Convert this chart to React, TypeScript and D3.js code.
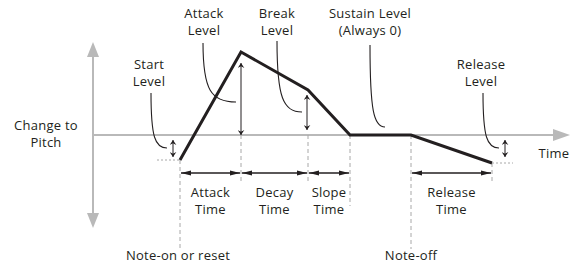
import React from "react";
import * as d3 from "d3";

// envelope stages (time units ~ px, pitch units ~ px)
const stageNames = ["Note-on", "Attack", "Decay", "Slope", "Note-off", "Release"];
const stageTimes = [0, 61, 128, 170, 231, 312];
const stageLevels = [-25, 83, 45, 0, 0, -28];

const timeSpans = [
  { label: ["Attack", "Time"], from: 0, to: 1 },
  { label: ["Decay", "Time"], from: 1, to: 2 },
  { label: ["Slope", "Time"], from: 2, to: 3 },
  { label: ["Release", "Time"], from: 4, to: 5 },
];

const W = 573;
const H = 267;
const ink = "#231f20";
const grey = "#b9b9b9";
const font = "'Open Sans', sans-serif";

export default function App() {
  const x = d3.scaleLinear().domain([-87, 375]).range([93, 555]);
  const y = d3.scaleLinear().domain([-93, 93]).range([228, 42]);
  const y0 = y(0);

  const pts: [number, number][] = stageTimes.map((t, i) => [x(t), y(stageLevels[i])]);
  const line = d3.line();

  const X = (i: number) => x(stageTimes[i]);
  const Y = (i: number) => y(stageLevels[i]);

  const spanY = y0 + 38;

  const txt = (lines: string[], cx: number, base: number, anchor = "middle") =>
    lines.map((s, k) => (
      <text key={k} x={cx} y={base + k * 17} textAnchor={anchor} fontSize={13} letterSpacing={0.25} fontFamily={font} fill={ink}>
        {s}
      </text>
    ));

  // double-headed level arrows
  const levelArrows = [
    { x: X(0) - 7, y1: y0 + 5, y2: Y(0) - 3 },
    { x: X(1), y1: Y(1) + 11, y2: y0 },
    { x: X(2) - 1, y1: Y(2) + 5, y2: y0 - 5 },
    { x: X(5) + 13, y1: y0 + 5, y2: Y(5) - 6 },
  ];

  // leader curves from label to arrow
  const leaders = [
    { sx: 151, sy: 93, ex: levelArrows[0].x - 6, ey: y0 + 13 },
    { sx: 203, sy: 43, ex: levelArrows[1].x - 5, ey: 102 },
    { sx: 277, sy: 41, ex: levelArrows[2].x - 5, ey: 112 },
    { sx: 370, sy: 45, ex: X(3) + 35, ey: y0 - 8 },
    { sx: 483, sy: 93, ex: levelArrows[3].x - 6, ey: y0 + 13 },
  ];

  const dashed = [
    { x: X(0), y1: Y(0), y2: 249 },
    { x: X(1), y1: y0, y2: 181 },
    { x: X(2), y1: y0, y2: 181 },
    { x: X(3), y1: y0, y2: 206 },
    { x: X(4), y1: y0, y2: 249 },
    { x: X(5), y1: Y(5), y2: 181 },
  ];

  return (
    <svg width={W} height={H} style={{ position: "absolute", left: 0, top: 0, background: "#fff" }}>
      <defs>
        <marker id="sa" viewBox="0 0 10 6" refX="10" refY="3" markerWidth="10" markerHeight="6" markerUnits="userSpaceOnUse" orient="auto-start-reverse">
          <path d="M0,0.6 L10,3 L0,5.4 Z" fill={ink} />
        </marker>
        <marker id="la" viewBox="0 0 6 8" refX="6" refY="4" markerWidth="5" markerHeight="7" markerUnits="userSpaceOnUse" orient="auto-start-reverse">
          <path d="M0,0 L6,4 L0,8 L2,4 Z" fill={ink} />
        </marker>
      </defs>

      {/* axes */}
      <line x1={x(-87)} x2={x(-87)} y1={y(79)} y2={y(-79)} stroke={grey} strokeWidth={2} />
      <path d={`M${x(-87) - 6},${y(78)} L${x(-87)},${y(93)} L${x(-87) + 6},${y(78)} Z`} fill={grey} />
      <path d={`M${x(-87) - 6},${y(-78)} L${x(-87)},${y(-93)} L${x(-87) + 6},${y(-78)} Z`} fill={grey} />
      <line x1={x(-87)} x2={x(375)} y1={y0} y2={y0} stroke={grey} strokeWidth={2} />
      <path d={`M${x(373)},${y0 - 6} L${x(390)},${y0} L${x(373)},${y0 + 6} Z`} fill={grey} />

      {/* dashed guides */}
      {dashed.map((d, i) => (
        <line key={i} x1={d.x} x2={d.x} y1={d.y1} y2={d.y2} stroke="#a8a8a8" strokeWidth={1} strokeDasharray="4,3" />
      ))}
      <line x1={X(0) - 23} x2={X(0)} y1={Y(0)} y2={Y(0)} stroke="#a8a8a8" strokeWidth={1} strokeDasharray="2,2" />
      <line x1={X(5)} x2={X(5) + 21} y1={Y(5)} y2={Y(5)} stroke="#a8a8a8" strokeWidth={1} strokeDasharray="2,2" />

      {/* envelope */}
      <path d={line(pts) || ""} fill="none" stroke={ink} strokeWidth={3} strokeLinejoin="miter" />

      {/* level arrows */}
      {levelArrows.map((a, i) => (
        <line key={i} x1={a.x} x2={a.x} y1={a.y1} y2={a.y2} stroke={ink} strokeWidth={1} markerStart="url(#la)" markerEnd="url(#la)" />
      ))}

      {/* leaders */}
      {leaders.map((l, i) => (
        <path
          key={i}
          d={`M${l.sx},${l.sy} C${l.sx},${l.sy + (l.ey - l.sy) * 0.8} ${l.sx + (l.ex - l.sx) * 0.25},${l.ey} ${l.ex},${l.ey}`}
          fill="none"
          stroke={ink}
          strokeWidth={1.1}
        />
      ))}

      {/* time spans */}
      {timeSpans.map((s, i) => (
        <g key={i}>
          <line x1={X(s.from) + 1} x2={X(s.to) - 1} y1={spanY} y2={spanY} stroke={ink} strokeWidth={1.3} markerStart="url(#sa)" markerEnd="url(#sa)" />
          {txt(s.label, (X(s.from) + X(s.to)) / 2, spanY + 24)}
        </g>
      ))}

      {/* labels */}
      {txt(["Start", "Level"], 149, 69)}
      {txt(["Attack", "Level"], 204, 18)}
      {txt(["Break", "Level"], 277, 18)}
      {txt(["Sustain Level", "(Always 0)"], 370, 18)}
      {txt(["Release", "Level"], 481, 69)}
      {txt(["Change to", "Pitch"], 46, 130)}
      {txt(["Time"], 554, 158)}
      {txt(["Note-on or reset"], X(0) - 2, 260)}
      {txt(["Note-off"], X(4), 260)}
    </svg>
  );
}
